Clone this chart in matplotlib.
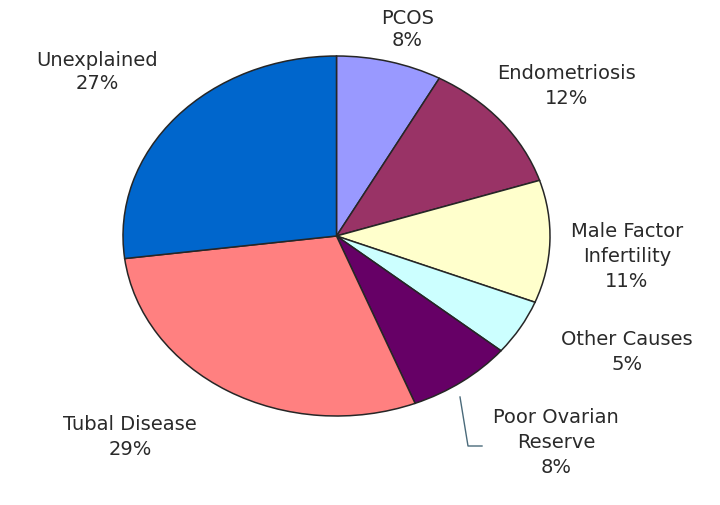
import matplotlib
matplotlib.use("Agg")
import matplotlib.pyplot as plt

labels = ["PCOS", "Endometriosis", "Male Factor\nInfertility", "Other Causes",
          "Poor Ovarian\nReserve", "Tubal Disease", "Unexplained"]
values = [8, 12, 11, 5, 8, 29, 27]
colors = ["#9999FF", "#993366", "#FFFFCC", "#CCFFFF", "#660066", "#FF8080", "#0066CC"]
# label block centres (data units of the pie, radius = 1)
label_pos = [(0.332, 1.155), (1.079, 0.839), (1.360, -0.111), (1.360, -0.639),
             (1.028, -1.144), (-0.967, -1.111), (-1.121, 0.917)]
label_spacing = [1.2, 1.4, 1.4, 1.4, 1.4, 1.4, 1.3]

fig = plt.figure(figsize=(7.2, 5.06), dpi=100)
ax = fig.add_axes([0, 0, 1, 1])
ax.pie(values, colors=colors, startangle=90, counterclock=False, radius=1,
       wedgeprops=dict(edgecolor="#262626", linewidth=1.1))
ax.set_aspect("auto")
cx, cy, rx, ry = 336.5, 237, 213.5, 180
ax.set_xlim(-cx / rx, (720 - cx) / rx)
ax.set_ylim(-(506 - cy) / ry, cy / ry)
ax.axis("off")

for lab, v, (x, y), ls in zip(labels, values, label_pos, label_spacing):
    ax.text(x, y, f"{lab}\n{v}%", ha="center", va="center", fontsize=14,
            family="DejaVu Sans", color="#2a2a2a", linespacing=ls)

# leader line for Poor Ovarian Reserve
ax.plot([(460 - cx) / rx, (468 - cx) / rx, (482 - cx) / rx],
        [(cy - 398) / ry, (cy - 447) / ry, (cy - 447) / ry],
        color="#4a6a7a", lw=1)

fig.savefig("out.png", dpi=100)
